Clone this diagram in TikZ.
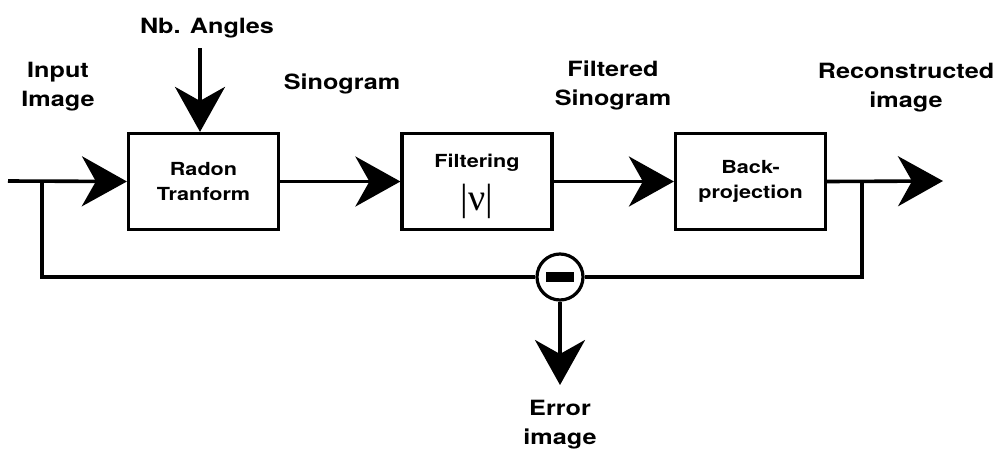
\documentclass[tikz,border=0pt]{standalone}
\usepackage{fontspec}
\setmainfont[FakeStretch=1.2]{TeX Gyre Heros}
\newfontfamily\grkfont{Liberation Serif}
\usetikzlibrary{arrows.meta,calc}
\tikzset{
  big/.style={font=\bfseries\fontsize{21}{29}\selectfont, align=center, inner sep=0pt},
  blk/.style={draw, line width=3.2pt, minimum width=150pt, minimum height=96pt, align=center,
    font=\bfseries\fontsize{18}{25}\selectfont, inner sep=0pt},
  wire/.style={line width=3.6pt},
  flow/.style={wire, -{Stealth[length=45pt,width=50pt,inset=14pt]}},
}
\begin{document}
\begin{tikzpicture}[x=1pt,y=-1pt]
\useasboundingbox (0,0) rectangle (1001,450);
% blocks
\node[blk] (radon) at (203.5,181.5) {Radon\\Tranform};
\node[blk] (filt) at (477,181.5) {};
\node[blk] (back) at (750.5,181.5) {Back-\\projection};
\node[anchor=base, font=\bfseries\fontsize{18}{25}\selectfont, inner sep=0pt] (ftxt) at (477,167) {Filtering};
\node[anchor=base, font=\grkfont\fontsize{38}{38}\selectfont, inner sep=0pt] (nu) at (477,210) {|ν|};
% summing circle
\node[draw, circle, line width=3.2pt, minimum size=46pt, inner sep=0pt] (sum) at (560,277) {};
\node[fill=black, minimum width=28pt, minimum height=10pt, inner sep=0pt] (minus) at (sum.center) {};
% coordinates
\coordinate (in) at (8,181);
\coordinate (split) at (42,181);
\coordinate (splitb) at (42,277);
\coordinate (tap) at (862,181);
\coordinate (tapb) at (862,277);
\coordinate (out) at (943,181);
\coordinate (nbtop) at (200,48);
\coordinate (err) at (560,385);
% labels
\node[big, anchor=base] (nb) at (207,33) {Nb. Angles};
\node[big, anchor=base] (inp) at (58,106) {Input\\Image};
\node[big, anchor=base] (sino) at (342,89) {Sinogram};
\node[big, anchor=base] (fsino) at (613,105) {Filtered\\Sinogram};
\node[big, anchor=base] (rec) at (906,107) {Reconstructed\\image};
\node[big, anchor=base] (erl) at (560,444) {Error\\image};
% connectors
\draw[flow] (in) -- (radon.west);
\draw[flow] (radon.east) -- (filt.west);
\draw[flow] (filt.east) -- (back.west);
\draw[flow] (back.east) -- (out);
\draw[flow] (nbtop) -- (nbtop |- radon.north);
\draw[wire] (split) -- (splitb) -- (sum.west);
\draw[wire] (tap) -- (tapb) -- (sum.east);
\draw[flow] (sum.south) -- (err);
\end{tikzpicture}
\end{document}
